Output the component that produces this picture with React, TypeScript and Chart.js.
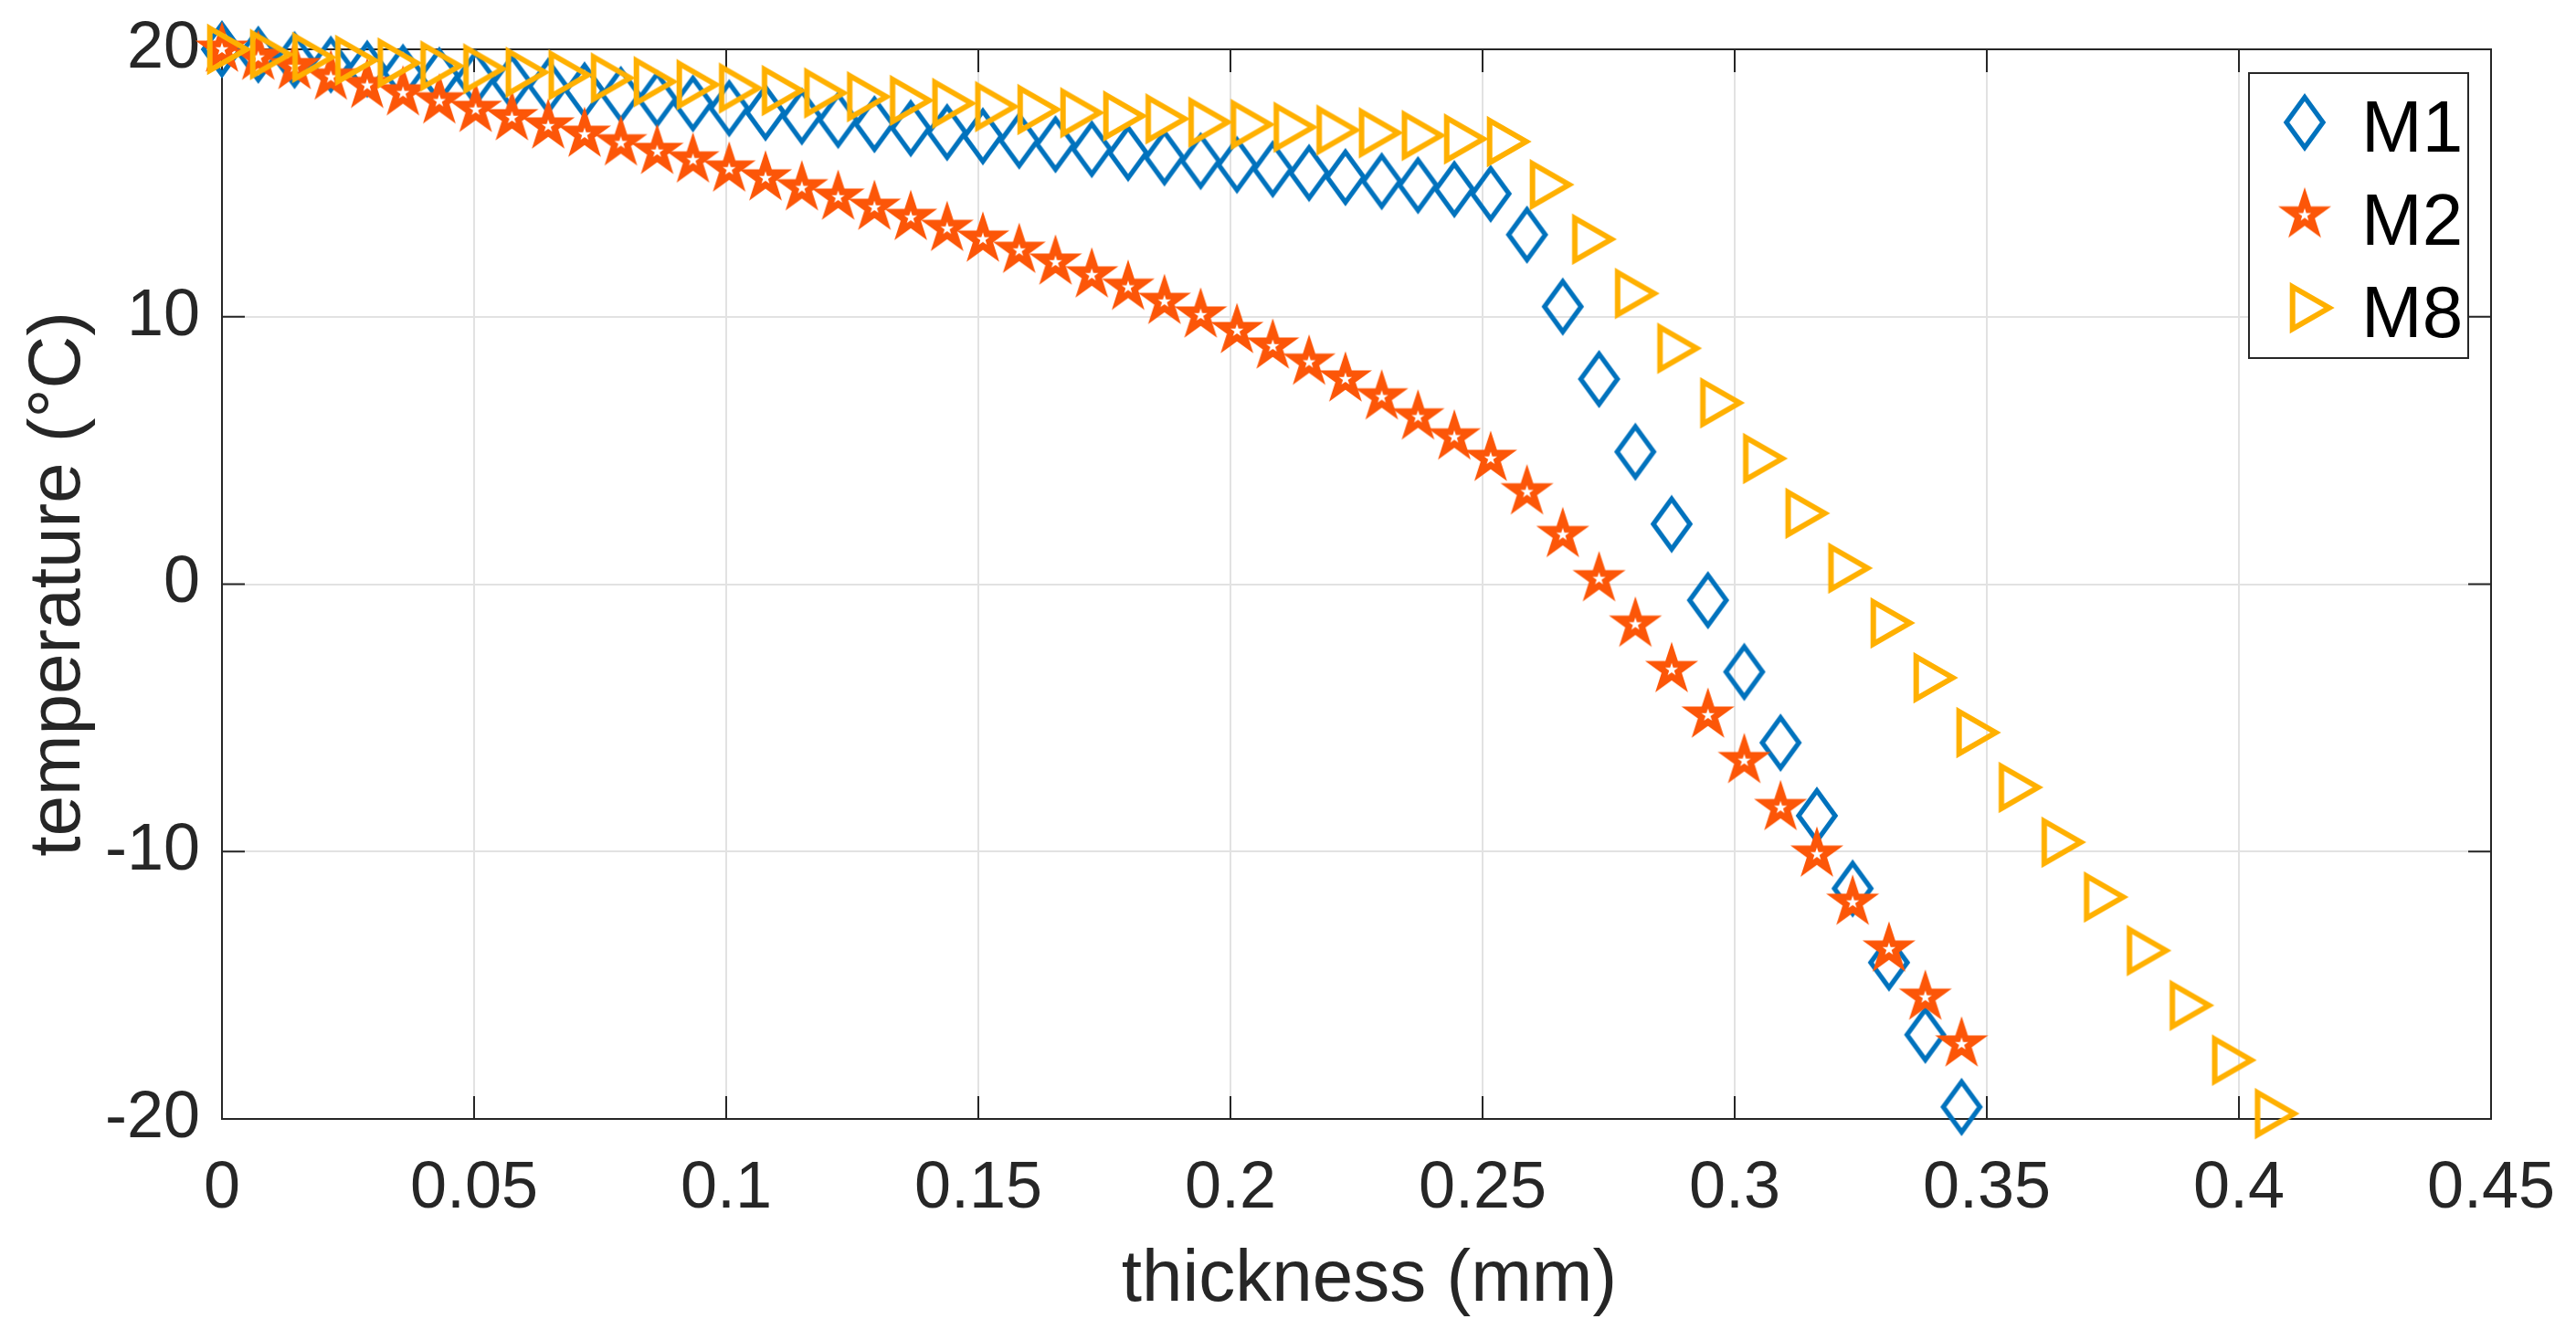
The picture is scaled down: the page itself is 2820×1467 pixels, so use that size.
import { useEffect, useRef } from "react";
import { Chart, registerables } from "chart.js";

Chart.register(...registerables);

// thickness (mm) sampled for M1 and M2
const thicknessA = [
  0, 0.0072, 0.0144, 0.0216, 0.0288, 0.0359, 0.0431, 0.0503, 0.0575, 0.0647,
  0.0719, 0.0791, 0.0863, 0.0934, 0.1006, 0.1078, 0.115, 0.1222, 0.1294, 0.1366,
  0.1438, 0.1509, 0.1581, 0.1653, 0.1725, 0.1797, 0.1869, 0.1941, 0.2013, 0.2084,
  0.2156, 0.2228, 0.23, 0.2372, 0.2444, 0.2516, 0.2588, 0.2659, 0.2731, 0.2803,
  0.2875, 0.2947, 0.3019, 0.3091, 0.3163, 0.3234, 0.3306, 0.3378, 0.345,
];

// thickness (mm) sampled for M8
const thicknessB = [
  0, 0.0085, 0.0169, 0.0254, 0.0338, 0.0423, 0.0508, 0.0592, 0.0677, 0.0761,
  0.0846, 0.0931, 0.1015, 0.11, 0.1184, 0.1269, 0.1354, 0.1438, 0.1523, 0.1607,
  0.1692, 0.1777, 0.1861, 0.1946, 0.203, 0.2115, 0.22, 0.2284, 0.2369, 0.2453,
  0.2538, 0.2623, 0.2707, 0.2792, 0.2876, 0.2961, 0.3046, 0.313, 0.3215, 0.3299,
  0.3384, 0.3469, 0.3553, 0.3638, 0.3722, 0.3807, 0.3892, 0.3976, 0.4061,
];

const tempM1 = [
  20.0, 19.8, 19.6, 19.43, 19.27, 19.13, 19.02, 18.92, 18.77, 18.62,
  18.46, 18.3, 18.14, 17.98, 17.8, 17.64, 17.49, 17.36, 17.2, 17.05,
  16.9, 16.75, 16.59, 16.45, 16.27, 16.13, 15.96, 15.82, 15.68, 15.52,
  15.38, 15.22, 15.07, 14.92, 14.77, 14.6, 13.07, 10.38, 7.67, 4.95,
  2.25, -0.6, -3.28, -5.93, -8.66, -11.38, -14.15, -16.85, -19.55,
];

const tempM2 = [
  20.0, 19.7, 19.35, 18.96, 18.65, 18.37, 18.07, 17.75, 17.44, 17.13,
  16.82, 16.5, 16.18, 15.86, 15.52, 15.19, 14.82, 14.47, 14.09, 13.71,
  13.3, 12.9, 12.48, 12.04, 11.56, 11.1, 10.57, 10.06, 9.48, 8.9,
  8.3, 7.67, 7.0, 6.25, 5.5, 4.7, 3.45, 1.85, 0.2, -1.5,
  -3.2, -4.9, -6.6, -8.36, -10.1, -11.9, -13.65, -15.45, -17.2,
];

const tempM8 = [
  20.0, 19.81, 19.7, 19.59, 19.49, 19.38, 19.27, 19.14, 19.04, 18.93,
  18.79, 18.68, 18.55, 18.46, 18.37, 18.23, 18.09, 17.98, 17.86, 17.75,
  17.63, 17.51, 17.4, 17.28, 17.19, 17.09, 16.98, 16.88, 16.78, 16.65,
  16.55, 14.94, 12.9, 10.87, 8.82, 6.78, 4.7, 2.65, 0.6, -1.45,
  -3.5, -5.55, -7.6, -9.65, -11.7, -13.7, -15.75, -17.8, -19.8,
];

const seriesNames = ["M1", "M2", "M8"];
const xTitle = "thickness (mm)";
const yTitle = "temperature (°C)";

const AXIS = "#262626";
const GRID = "#e2e2e2";
const FONT = "'Liberation Sans', Arial, Helvetica, sans-serif";
const BLUE = "#0072BD";
const ORANGE = "#FC5608";
const YELLOW = "#FFB000";

function markerCanvas(draw: (g: CanvasRenderingContext2D) => void) {
  const c = document.createElement("canvas");
  c.width = 80;
  c.height = 80;
  const g = c.getContext("2d")!;
  g.translate(40, 40);
  draw(g);
  return c;
}

function diamond(color: string) {
  return markerCanvas((g) => {
    g.beginPath();
    g.moveTo(0, -27.5);
    g.lineTo(20, 0);
    g.lineTo(0, 27.5);
    g.lineTo(-20, 0);
    g.closePath();
    g.lineWidth = 5.3;
    g.lineJoin = "miter";
    g.strokeStyle = color;
    g.stroke();
  });
}

function starPath(g: CanvasRenderingContext2D, R: number, r: number) {
  g.beginPath();
  for (let k = 0; k < 10; k++) {
    const a = (-90 + k * 36) * (Math.PI / 180);
    const rad = k % 2 === 0 ? R : r;
    if (k === 0) g.moveTo(rad * Math.cos(a), rad * Math.sin(a));
    else g.lineTo(rad * Math.cos(a), rad * Math.sin(a));
  }
  g.closePath();
}

function star(color: string) {
  return markerCanvas((g) => {
    starPath(g, 30.5, 11.65);
    g.fillStyle = color;
    g.fill();
    starPath(g, 7.5, 2.9);
    g.fillStyle = "#ffffff";
    g.fill();
  });
}

function triangleRight(color: string) {
  return markerCanvas((g) => {
    g.beginPath();
    g.moveTo(-13.3, -23);
    g.lineTo(26.7, 0);
    g.lineTo(-13.3, 23);
    g.closePath();
    g.lineWidth = 6;
    g.lineJoin = "miter";
    g.strokeStyle = color;
    g.stroke();
  });
}

// box, inward ticks and the x title (MATLAB look)
const axesBox = {
  id: "axesBox",
  beforeDatasetsDraw(chart: any) {
    const { ctx, chartArea: a, scales } = chart;
    const tl = 25;
    ctx.save();
    ctx.strokeStyle = AXIS;
    ctx.lineWidth = 2;
    ctx.strokeRect(a.left, a.top, a.right - a.left, a.bottom - a.top);
    ctx.beginPath();
    scales.x.ticks.forEach((t: any) => {
      const px = scales.x.getPixelForValue(t.value);
      ctx.moveTo(px, a.bottom);
      ctx.lineTo(px, a.bottom - tl);
      ctx.moveTo(px, a.top);
      ctx.lineTo(px, a.top + tl);
    });
    scales.y.ticks.forEach((t: any) => {
      const py = scales.y.getPixelForValue(t.value);
      ctx.moveTo(a.left, py);
      ctx.lineTo(a.left + tl, py);
      ctx.moveTo(a.right, py);
      ctx.lineTo(a.right - tl, py);
    });
    ctx.stroke();

    ctx.fillStyle = AXIS;
    ctx.font = `80px ${FONT}`;
    ctx.textAlign = "center";
    ctx.textBaseline = "middle";
    ctx.fillText(xTitle, (a.left + a.right) / 2 + 14, scales.x.bottom - 65);
    ctx.restore();
  },
};

const legendBox = {
  id: "legendBox",
  afterDatasetsDraw(chart: any) {
    const { ctx, chartArea: a } = chart;
    const w = 240;
    const h = 312;
    const x = a.right - 25 - w;
    const y = a.top + 26;
    ctx.save();
    ctx.fillStyle = "#ffffff";
    ctx.fillRect(x, y, w, h);
    ctx.strokeStyle = AXIS;
    ctx.lineWidth = 2;
    ctx.strokeRect(x, y, w, h);
    ctx.font = `80px ${FONT}`;
    ctx.textBaseline = "alphabetic";
    ctx.textAlign = "left";
    chart.data.datasets.forEach((ds: any, i: number) => {
      const cy = y + 54 + i * 101.5;
      const img = ds.pointStyle as HTMLCanvasElement;
      ctx.drawImage(img, x + 61 - img.width / 2, cy - img.height / 2);
      ctx.fillStyle = "#000000";
      ctx.fillText(ds.label, x + 123, cy + 32);
    });
    ctx.restore();
  },
};

export default function App() {
  const canvasRef = useRef<HTMLCanvasElement | null>(null);
  const chartRef = useRef<Chart | null>(null);

  useEffect(() => {
    if (!canvasRef.current) return;
    if (chartRef.current) {
      chartRef.current.destroy();
      chartRef.current = null;
    }

    const tickFont = { family: FONT, size: 72 };
    const titleFont = { family: FONT, size: 80 };

    chartRef.current = new Chart(canvasRef.current, {
      type: "scatter",
      data: {
        datasets: [
          {
            label: seriesNames[0],
            data: thicknessA.map((x, i) => ({ x, y: tempM1[i] })),
            pointStyle: diamond(BLUE),
            pointRadius: 10,
            showLine: false,
            clip: false,
            order: 2,
          },
          {
            label: seriesNames[1],
            data: thicknessA.map((x, i) => ({ x, y: tempM2[i] })),
            pointStyle: star(ORANGE),
            pointRadius: 10,
            showLine: false,
            clip: false,
            order: 1,
          },
          {
            label: seriesNames[2],
            data: thicknessB.map((x, i) => ({ x, y: tempM8[i] })),
            pointStyle: triangleRight(YELLOW),
            pointRadius: 10,
            showLine: false,
            clip: false,
            order: 0,
          },
        ] as any,
      },
      options: {
        animation: false,
        responsive: false,
        devicePixelRatio: 1,
        events: [],
        layout: { padding: { left: 0, top: 54, right: 93, bottom: 0 } },
        plugins: {
          legend: { display: false },
          tooltip: { enabled: false },
        },
        scales: {
          x: {
            type: "linear",
            min: 0,
            max: 0.45,
            afterFit: (s: any) => {
              s.height = 242;
              s.paddingLeft = 0;
              s.paddingRight = 0;
            },
            grid: { color: GRID, lineWidth: 2, drawTicks: false, tickLength: 0 },
            border: { display: false },
            ticks: {
              stepSize: 0.05,
              padding: 34,
              color: AXIS,
              font: tickFont,
              maxRotation: 0,
              autoSkip: false,
              callback: (v: any) => String(+Number(v).toFixed(2)),
            },
            title: { display: false },
          },
          y: {
            type: "linear",
            min: -20,
            max: 20,
            afterFit: (s: any) => {
              s.width = 243;
              s.paddingTop = 0;
              s.paddingBottom = 0;
            },
            grid: { color: GRID, lineWidth: 2, drawTicks: false, tickLength: 0 },
            border: { display: false },
            ticks: {
              stepSize: 10,
              padding: 24,
              color: AXIS,
              font: tickFont,
              callback: (v: any) => String(+Number(v).toFixed(0)),
            },
            title: {
              display: true,
              text: yTitle,
              color: AXIS,
              font: titleFont,
              padding: { top: 17, bottom: 0 },
            },
          },
        },
      },
      plugins: [axesBox, legendBox],
    } as any);

    return () => {
      chartRef.current?.destroy();
      chartRef.current = null;
    };
  }, []);

  return (
    <div
      style={{
        position: "absolute",
        left: 0,
        top: 0,
        width: 2820,
        height: 1467,
        background: "#ffffff",
      }}
    >
      <canvas
        ref={canvasRef}
        width={2820}
        height={1467}
        style={{ width: 2820, height: 1467, display: "block" }}
      />
    </div>
  );
}
